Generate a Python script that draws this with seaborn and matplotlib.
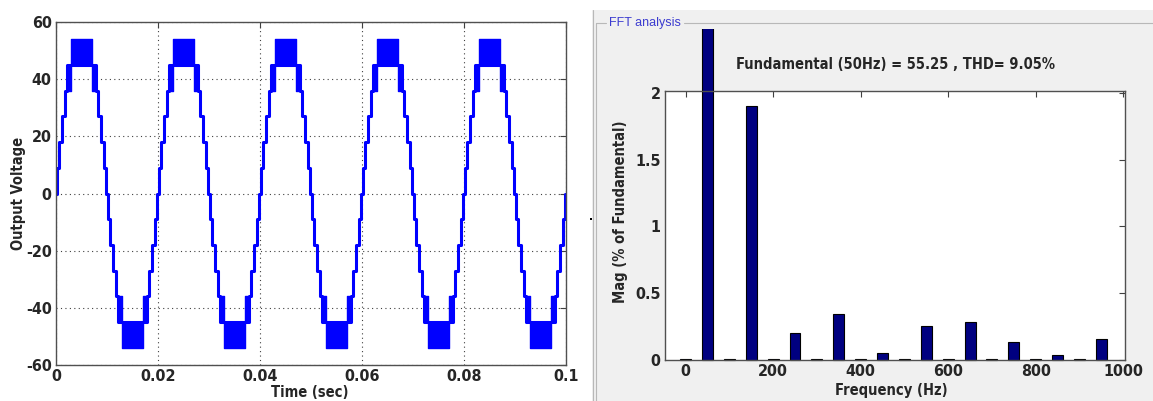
import numpy as np
import pandas as pd
import seaborn as sns
import matplotlib
matplotlib.use("Agg")
import matplotlib.pyplot as plt
from matplotlib.patches import Rectangle
from matplotlib.lines import Line2D
from matplotlib.transforms import Bbox, TransformedBbox

# --- Output voltage (staircase) ---
period = 0.02
n_cycles = 5
# instants (s, from the zero crossing) where the level steps up in the first quarter
step_times = [0.0001, 0.0006, 0.0012, 0.0018, 0.0021]
step_levels = [9, 18, 27, 36, 45]
top_level = 54
pwm_top_start = 0.0029  # start of the 45/54 switching band

time_ticks = [0, 0.02, 0.04, 0.06, 0.08, 0.1]
time_labels = ["0", "0.02", "0.04", "0.06", "0.08", "0.1"]
volt_ticks = [-60, -40, -20, 0, 20, 40, 60]

# --- FFT analysis ---
freqs = [0, 50, 100, 150, 200, 250, 300, 350, 400, 450,
         500, 550, 600, 650, 700, 750, 800, 850, 900, 950]
mags = [0.006, 100, 0.004, 1.90, 0.006, 0.20, 0.004, 0.345, 0.006, 0.05,
        0.004, 0.255, 0.006, 0.287, 0.004, 0.137, 0.006, 0.035, 0.004, 0.157]
fft_title = "Fundamental (50Hz) = 55.25 , THD= 9.05%"
freq_ticks = [0, 200, 400, 600, 800, 1000]
mag_ticks = [0, 0.5, 1, 1.5, 2]
mag_labels = ["0", "0.5", "1", "1.5", "2"]

sns.set_style("white")
plt.rcParams["font.family"] = ["DejaVu Sans"]
plt.rcParams["font.stretch"] = "condensed"
plt.rcParams["font.weight"] = "bold"
plt.rcParams["axes.unicode_minus"] = False

W, H = 1153, 401
fig = plt.figure(figsize=(W / 100, H / 100), dpi=100)
fig.patch.set_facecolor("white")


def fx(px):
    return px / W


def fy(py):
    return 1 - py / H


# gray panel of the FFT window
fig.patches.append(Rectangle((fx(592), 0), fx(W - 592), fy(10), transform=fig.transFigure,
                             facecolor="#f0f0f0", edgecolor="none", zorder=-2))
frame = dict(transform=fig.transFigure, color="#b8b8b8", lw=0.8, zorder=-1)
fig.lines.append(Line2D([fx(592.5), fx(592.5)], [0, fy(10)], **frame))
fig.lines.append(Line2D([fx(595.5), fx(595.5)], [0, fy(23)], **frame))
fig.lines.append(Line2D([fx(595.5), fx(606)], [fy(23), fy(23)], **frame))
fig.lines.append(Line2D([fx(684), 1], [fy(23), fy(23)], **frame))
fig.text(fx(609), fy(23), "FFT analysis", color="#3c3cd0", fontsize=9,
         family=["Liberation Sans", "DejaVu Sans"], weight="normal", stretch="normal",
         va="center")
fig.patches.append(Rectangle((fx(590), fy(219.5)), fx(2), 2 / H, transform=fig.transFigure,
                             facecolor="black", edgecolor="none"))

# ---------------- left: output voltage ----------------
ax1 = fig.add_axes([fx(56), fy(365), fx(510), (365 - 22) / H])

# half-cycle staircase edges and levels
half = period / 2
edges = [0] + step_times + [half - t for t in reversed(step_times)]
levels = [0] + step_levels + list(reversed(step_levels[:-1])) + [0]
t_pts, v_pts = [], []
for c in range(n_cycles):
    for h, sign in enumerate([1, -1]):
        start = c * period + h * half
        for e, lv in zip(edges, levels):
            t_pts.append(start + e)
            v_pts.append(sign * lv)
t_pts.append(n_cycles * period)
v_pts.append(0)
wave = pd.DataFrame({"t": t_pts, "v": v_pts})

sns.lineplot(data=wave, x="t", y="v", drawstyle="steps-post", estimator=None,
             sort=False, color="#0000ff", lw=2.2, ax=ax1)

# switching bands near the peaks
for c in range(n_cycles):
    for h, sign in enumerate([1, -1]):
        start = c * period + h * half
        t5 = step_times[-1]
        bands = [
            (start + t5, start + pwm_top_start, step_levels[-2], step_levels[-1]),
            (start + pwm_top_start, start + half - pwm_top_start, step_levels[-1], top_level),
            (start + half - pwm_top_start, start + half - t5, step_levels[-2], step_levels[-1]),
        ]
        for a, b, lo, hi in bands:
            ax1.fill_between([a, b], sign * lo, sign * hi, color="#0000ff",
                             edgecolor="#0000ff", lw=1)

ax1.set_xlim(0, 0.1)
ax1.set_ylim(-60, 60)
ax1.set_xticks(time_ticks)
ax1.set_xticklabels(time_labels)
ax1.set_yticks(volt_ticks)
ax1.grid(True, linestyle=(0, (1, 3)), color="#404040", lw=0.8)
ax1.set_xlabel("Time (sec)", fontsize=10.5, fontweight="bold")
ax1.set_ylabel("Output Voltage", fontsize=10.5, fontweight="bold")
ax1.xaxis.set_label_coords(0.498, -0.058)
ax1.yaxis.set_label_coords(-0.058, 0.5)

# ---------------- right: FFT ----------------
ax2 = fig.add_axes([fx(665), fy(360), fx(460), (360 - 90.7) / H])
ax2.set_facecolor("white")
sns.barplot(x=freqs, y=mags, native_scale=True, width=0.5, color="#000080",
            saturation=1, edgecolor="black", linewidth=0.8, ax=ax2)
clip = TransformedBbox(Bbox([[0, 0], [1, fy(29)]]), fig.transFigure)
for p in ax2.patches:
    p.set_clip_box(clip)

ax2.set_xlim(-47, 1004)
ax2.set_ylim(0, 2.015)
ax2.set_xticks(freq_ticks)
ax2.set_xticklabels([str(f) for f in freq_ticks])
ax2.set_yticks(mag_ticks)
ax2.set_yticklabels(mag_labels)
ax2.set_xlabel("Frequency (Hz)", fontsize=10.5, fontweight="bold")
ax2.set_ylabel("Mag (% of Fundamental)", fontsize=10.5, fontweight="bold")
ax2.xaxis.set_label_coords(0.493, -0.085)
ax2.yaxis.set_label_coords(-0.080, 0.55)
ax2.text(0.5, 1.0955, fft_title, transform=ax2.transAxes, ha="center", va="center",
         fontsize=10.5, fontweight="bold")

for ax in (ax1, ax2):
    ax.tick_params(direction="in", top=True, right=True, length=4, width=0.8,
                   color="#404040", labelsize=11.5, pad=3)
    for lab in ax.get_xticklabels() + ax.get_yticklabels():
        lab.set_fontweight("bold")
    for s in ax.spines.values():
        s.set_color("#505050")
        s.set_linewidth(1)
        s.set_visible(True)

fig.savefig("out.png", dpi=100)
